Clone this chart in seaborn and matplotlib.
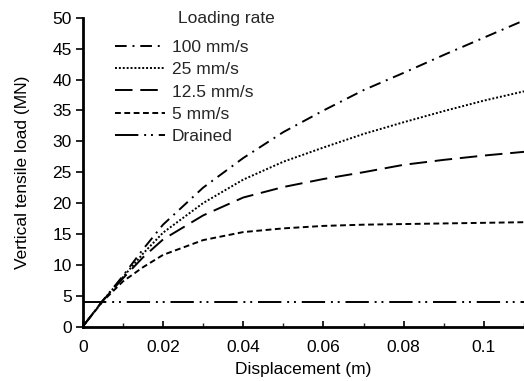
import matplotlib
matplotlib.use("Agg")
import matplotlib.pyplot as plt
import seaborn as sns
import pandas as pd
from matplotlib.ticker import MultipleLocator, FuncFormatter

disp = [0, 0.005, 0.01, 0.015, 0.02, 0.03, 0.04, 0.05, 0.06, 0.07, 0.08, 0.09, 0.10, 0.11]
load_100 = [0, 4.2, 8.2, 12.5, 16.5, 22.5, 27.3, 31.5, 35.0, 38.3, 41.1, 44.0, 46.8, 49.6]
load_25 = [0, 4.2, 8.0, 11.8, 15.2, 20.0, 23.8, 26.7, 29.0, 31.2, 33.1, 34.9, 36.6, 38.1]
load_12_5 = [0, 4.2, 7.8, 11.2, 14.1, 18.0, 20.9, 22.6, 23.9, 25.0, 26.2, 27.0, 27.7, 28.3]
load_5 = [0, 4.1, 7.3, 9.6, 11.6, 14.0, 15.3, 15.9, 16.3, 16.5, 16.6, 16.7, 16.8, 16.9]
disp_drained = [0, 0.11]
load_drained = [3.9, 3.9]

labels = ["100 mm/s", "25 mm/s", "12.5 mm/s", "5 mm/s", "Drained"]
legend_title = "Loading rate"

FS = 12.5

sns.set_theme(style="white")
plt.rcParams['font.family'] = ['Liberation Sans', 'DejaVu Sans']

fig = plt.figure(figsize=(5.24, 3.81), dpi=100)
ax = fig.add_axes([0.158, 0.143, 0.842, 0.81])

styles = [
    (0, (6, 3, 1, 3)),
    (0, (1, 1)),
    (0, (9, 4)),
    (0, (3, 1.8)),
    (0, (12, 3, 1, 2.5, 1, 3)),
]
widths = [1.4, 1.4, 1.4, 1.4, 1.4]
series = [(disp, load_100), (disp, load_25), (disp, load_12_5), (disp, load_5), (disp_drained, load_drained)]

for (xs, ys), lab, ls, lw in zip(series, labels, styles, widths):
    df = pd.DataFrame({"x": xs, "y": ys})
    sns.lineplot(data=df, x="x", y="y", ax=ax, color="black", linewidth=lw,
                 linestyle=ls, label=lab, clip_on=False)

ax.set_xlim(0, 0.11)
ax.set_ylim(0, 50)
ax.xaxis.set_major_locator(MultipleLocator(0.02))
ax.xaxis.set_minor_locator(MultipleLocator(0.01))
ax.yaxis.set_major_locator(MultipleLocator(5))
ax.xaxis.set_major_formatter(FuncFormatter(lambda v, p: f"{v:g}"))
ax.tick_params(axis='x', which='major', direction='in', length=4, width=1.2,
               bottom=True, labelsize=FS, colors='black', pad=10)
ax.tick_params(axis='x', which='minor', direction='in', length=3, width=1.0, bottom=True)
ax.tick_params(axis='y', which='major', direction='out', length=5, width=1.2,
               left=True, labelsize=FS, colors='black', pad=3)

for s in ['top', 'right']:
    ax.spines[s].set_visible(False)
for s in ['left', 'bottom']:
    ax.spines[s].set_color('black')
    ax.spines[s].set_linewidth(2)

ax.set_xlabel("Displacement (m)", fontsize=FS, color='black', labelpad=5)
ax.set_ylabel("Vertical tensile load (MN)", fontsize=FS, color='black', labelpad=16)
ax.grid(False)

leg = ax.legend(loc="upper left", bbox_to_anchor=(0.072, 0.93),
                frameon=False, fontsize=FS, handlelength=2.9,
                handletextpad=0.4, labelspacing=0.42, borderaxespad=0, borderpad=0)
fig.text(178 / 524, 1 - 18 / 381, legend_title, fontsize=FS, ha='left', va='center')

fig.savefig("out.png", dpi=100)
